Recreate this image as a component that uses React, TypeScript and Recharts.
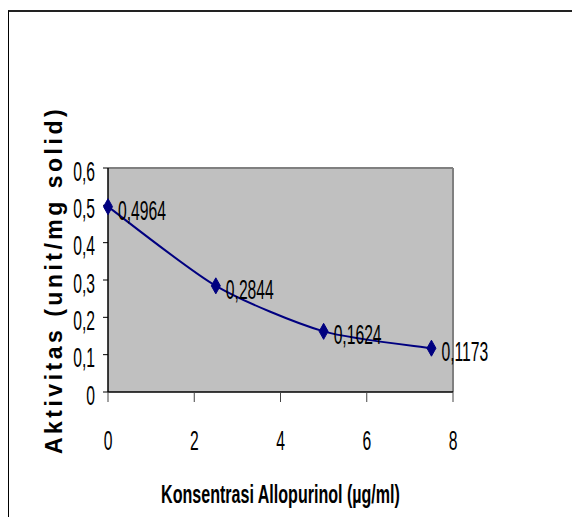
import React from 'react';
import {
  LineChart,
  Line,
  XAxis,
  YAxis,
  CartesianGrid,
  ReferenceLine,
  LabelList,
} from 'recharts';

// Allopurinol concentration (µg/ml) vs. activity (unit/mg solid)
const CONCENTRATION = [0, 2.5, 5, 7.5];
const ACTIVITY = [0.4964, 0.2844, 0.1624, 0.1173];
const X_TICKS = [0, 2, 4, 6, 8];
const Y_TICKS = [0, 0.1, 0.2, 0.3, 0.4, 0.5, 0.6];
const X_TITLE = 'Konsentrasi Allopurinol (µg/ml)';
const Y_TITLE = 'Aktivitas (unit/mg solid)';

const data = CONCENTRATION.map((c, i) => ({ c, a: ACTIVITY[i] }));

const NAVY = '#000080';
const FONT = '"Liberation Sans", Arial, sans-serif';

// decimal comma, like the original
const fmt = (v: number) => String(v).replace('.', ',');

// Excel-style smoothed line (cardinal spline as cubic beziers, a bit tighter than Catmull-Rom)
function smoothCurve(context: any) {
  let pts: number[][] = [];
  const k = 1 / 8;
  return {
    areaStart() {},
    areaEnd() {},
    lineStart() {
      pts = [];
    },
    point(x: number, y: number) {
      pts.push([+x, +y]);
    },
    lineEnd() {
      if (!pts.length) return;
      context.moveTo(pts[0][0], pts[0][1]);
      for (let i = 0; i < pts.length - 1; i++) {
        const p0 = pts[i - 1] || pts[i];
        const p1 = pts[i];
        const p2 = pts[i + 1];
        const p3 = pts[i + 2] || pts[i + 1];
        context.bezierCurveTo(
          p1[0] + (p2[0] - p0[0]) * k,
          p1[1] + (p2[1] - p0[1]) * k,
          p2[0] - (p3[0] - p1[0]) * k,
          p2[1] - (p3[1] - p1[1]) * k,
          p2[0],
          p2[1]
        );
      }
    },
  };
}

// the original text is strongly condensed
function NarrowText({ x, y, anchor, size = 28, sx = 0.56, bold = false, children }: any) {
  return (
    <text
      transform={`translate(${x},${y}) scale(${sx},1)`}
      textAnchor={anchor}
      fontFamily={FONT}
      fontSize={size}
      fontWeight={bold ? 'bold' : 'normal'}
      fill="#000"
    >
      {children}
    </text>
  );
}

const XTick = ({ x, payload }: any) => (
  <NarrowText x={x} y={450} anchor="middle">
    {fmt(payload.value)}
  </NarrowText>
);

const YTick = ({ x, y, payload }: any) => (
  <NarrowText x={x} y={y + 12.5} anchor="end">
    {fmt(payload.value)}
  </NarrowText>
);

const Diamond = ({ cx, cy, index }: any) => (
  <path
    key={`d-${index}`}
    d={`M${cx},${cy - 8} L${cx + 4.5},${cy} L${cx},${cy + 8} L${cx - 4.5},${cy} Z`}
    fill={NAVY}
    stroke={NAVY}
  />
);

const PointLabel = ({ x, y, value }: any) => (
  <NarrowText x={x + 10} y={y + 13} anchor="start">
    {fmt(value)}
  </NarrowText>
);

const XTitle = ({ viewBox }: any) => (
  <NarrowText
    x={viewBox.x + viewBox.width / 2}
    y={503}
    anchor="middle"
    size={25.5}
    sx={0.63}
    bold
  >
    {X_TITLE}
  </NarrowText>
);

const YTitle = ({ viewBox }: any) => (
  <text
    transform={`translate(62,${viewBox.y + viewBox.height / 2}) rotate(-90)`}
    textAnchor="middle"
    fontFamily={FONT}
    fontSize={23}
    fontWeight="bold"
    letterSpacing={3.5}
    fill="#000"
  >
    {Y_TITLE}
  </text>
);

export default function App() {
  return (
    <div style={{ position: 'relative', width: 580, height: 525, margin: -8, background: '#fff' }}>
      <div
        style={{
          position: 'absolute',
          left: 8,
          top: 10,
          width: 572,
          height: 515,
          borderTop: '2px solid #222',
          borderLeft: '1px solid #000',
        }}
      />
      <div style={{ position: 'absolute', left: 0, top: 0 }}>
        <LineChart
          width={580}
          height={525}
          data={data}
          margin={{ top: 168, right: 127, left: 0, bottom: 0 }}
        >
          <CartesianGrid horizontal={false} vertical={false} fill="#c0c0c0" />
          <ReferenceLine y={0.6} stroke="#808080" strokeWidth={2} />
          <ReferenceLine x={8} stroke="#808080" strokeWidth={2} />
          <XAxis
            dataKey="c"
            type="number"
            domain={[0, 8]}
            ticks={X_TICKS}
            height={133}
            tickSize={10}
            axisLine={{ stroke: '#000', strokeWidth: 1.5 }}
            tickLine={{ stroke: '#444' }}
            tick={<XTick />}
            label={{ content: <XTitle /> }}
          />
          <YAxis
            dataKey="a"
            type="number"
            domain={[0, 0.6]}
            ticks={Y_TICKS}
            width={108}
            tickSize={5}
            tickMargin={8}
            axisLine={{ stroke: '#000', strokeWidth: 1.5 }}
            tickLine={{ stroke: '#000' }}
            tick={<YTick />}
            label={{ content: <YTitle /> }}
          />
          <Line
            type={smoothCurve as any}
            dataKey="a"
            stroke={NAVY}
            strokeWidth={2}
            dot={<Diamond />}
            activeDot={false}
            isAnimationActive={false}
          >
            <LabelList dataKey="a" content={<PointLabel />} />
          </Line>
        </LineChart>
      </div>
    </div>
  );
}
